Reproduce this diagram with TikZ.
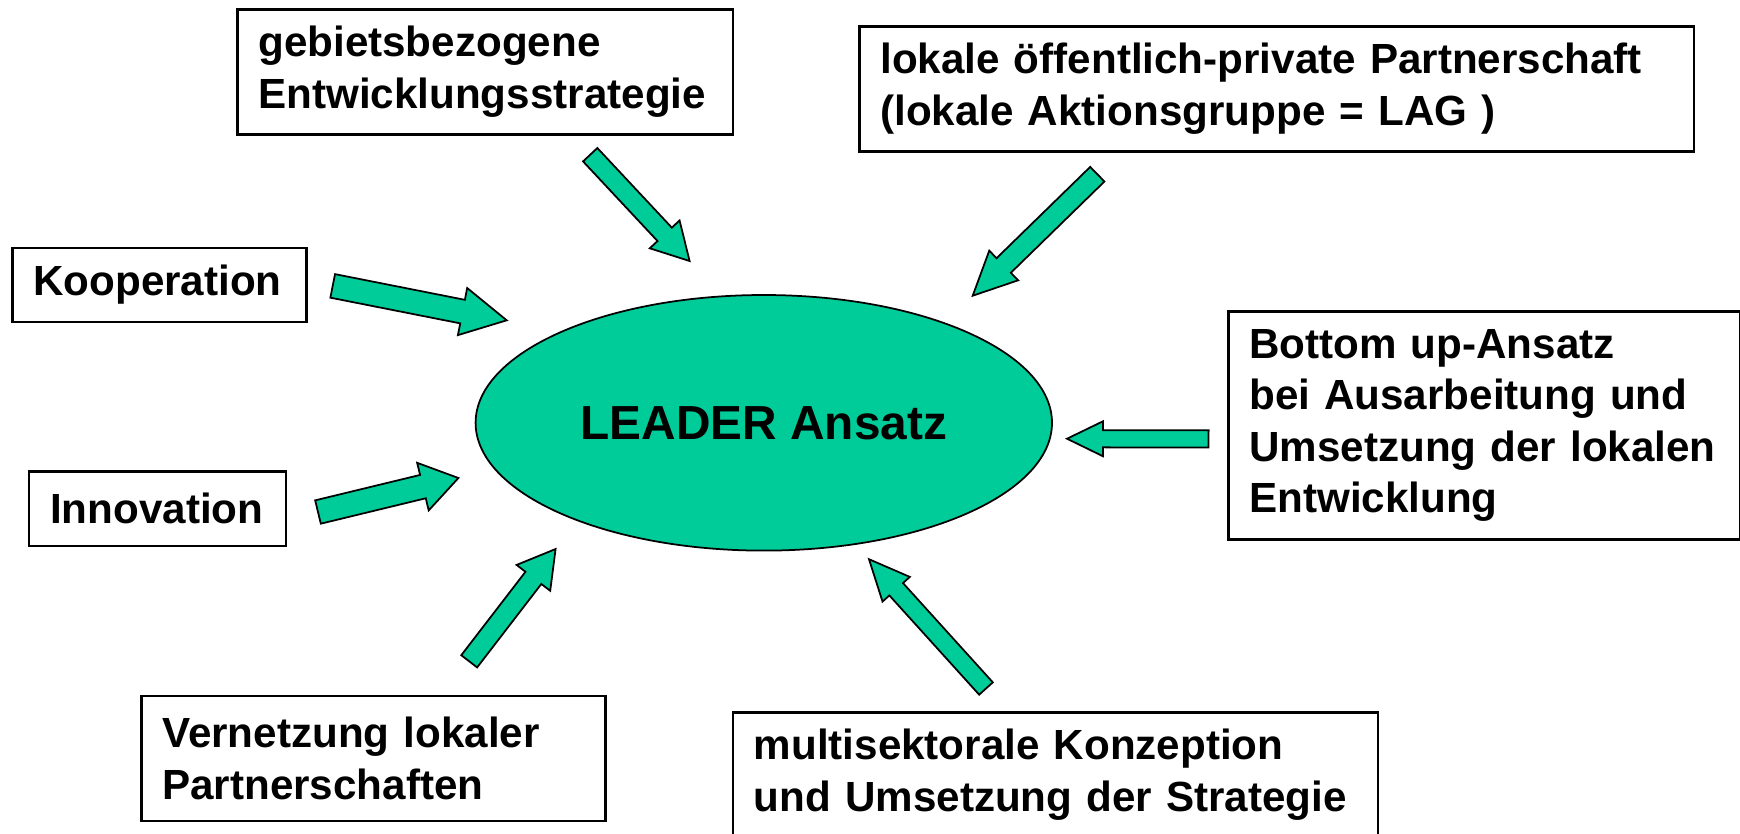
\documentclass[tikz,border=0pt]{standalone}
\usepackage{fontspec}
\setmainfont{Liberation Sans}
\usetikzlibrary{calc,shapes.geometric}

\definecolor{leadergreen}{RGB}{0,204,153}

% block arrow: tail, tip, half shaft width, half head width, head length (cm)
\newcommand{\blockarrow}[5]{
  \coordinate (#1-h) at ($(#2)!#5cm!(#1)$);
  \draw[arw] ($(#1)!#3cm!90:(#2)$) -- ($(#1-h)!#3cm!-90:(#1)$)
    -- ($(#1-h)!#4cm!-90:(#1)$) -- (#2) -- ($(#1-h)!#4cm!90:(#1)$)
    -- ($(#1-h)!#3cm!90:(#1)$) -- ($(#1)!#3cm!-90:(#2)$) -- cycle;
}

\begin{document}
\begin{tikzpicture}[
  infobox/.style={draw, line width=0.75pt, align=left, anchor=north west,
    inner xsep=0.21cm, inner ysep=0pt,
    font=\bfseries\fontsize{12}{14.6}\selectfont},
  core/.style={ellipse, draw, fill=leadergreen, line width=0.5pt, inner sep=0pt,
    minimum width=5.764cm, minimum height=2.556cm,
    font=\bfseries\fontsize{13.6}{16}\selectfont},
  arw/.style={draw, fill=leadergreen, line width=0.5pt, line join=miter},
]
  \useasboundingbox (0,0) rectangle (17.40,-8.33);

  % centre
  \node[core] (leader) at (7.638,-4.228) {LEADER Ansatz};

  % the seven features
  \node[infobox, text width=4.536cm, minimum height=1.25cm] (geb) at (2.36,-0.08)
    {gebietsbezogene\\Entwicklungsstrategie};
  \node[infobox, text width=7.925cm, minimum height=1.25cm] (lag) at (8.58,-0.25)
    {lokale öffentlich-private Partnerschaft\\(lokale Aktionsgruppe = LAG )};
  \node[infobox, text width=2.52cm, minimum height=0.74cm] (koop) at (0.11,-2.467)
    {Kooperation};
  \node[infobox, text width=2.15cm, minimum height=0.744cm] (inno) at (0.278,-4.703)
    {Innovation};
  \node[infobox, text width=4.697cm, minimum height=2.28cm] (bottom) at (12.27,-3.10)
    {Bottom up-Ansatz\\bei Ausarbeitung und\\Umsetzung der lokalen\\Entwicklung};
  \node[infobox, text width=4.22cm, minimum height=1.25cm] (netz) at (1.40,-6.947)
    {Vernetzung lokaler\\Partnerschaften};
  \node[infobox, text width=6.03cm, minimum height=1.25cm] (multi) at (7.315,-7.11)
    {multisektorale Konzeption\\und Umsetzung der Strategie};

  % arrow ends
  \coordinate (geb-a) at (5.902,-1.547);   \coordinate (geb-b) at (6.896,-2.61);
  \coordinate (lag-a) at (10.973,-1.742);  \coordinate (lag-b) at (9.727,-2.957);
  \coordinate (koop-a) at (3.327,-2.859);  \coordinate (koop-b) at (5.067,-3.203);
  \coordinate (inno-a) at (3.18,-5.12);    \coordinate (inno-b) at (4.584,-4.78);
  \coordinate (bot-a) at (12.086,-4.389);  \coordinate (bot-b) at (10.67,-4.387);
  \coordinate (netz-a) at (4.692,-6.613);  \coordinate (netz-b) at (5.556,-5.49);
  \coordinate (multi-a) at (9.86,-6.885);  \coordinate (multi-b) at (8.69,-5.592);

  \blockarrow{geb-a}{geb-b}{0.098}{0.204}{0.365}
  \blockarrow{lag-a}{lag-b}{0.102}{0.207}{0.433}
  \blockarrow{koop-a}{koop-b}{0.12}{0.24}{0.45}
  \blockarrow{inno-a}{inno-b}{0.12}{0.245}{0.365}
  \blockarrow{bot-a}{bot-b}{0.086}{0.175}{0.36}
  \blockarrow{netz-a}{netz-b}{0.10}{0.212}{0.364}
  \blockarrow{multi-a}{multi-b}{0.092}{0.184}{0.405}
\end{tikzpicture}
\end{document}
